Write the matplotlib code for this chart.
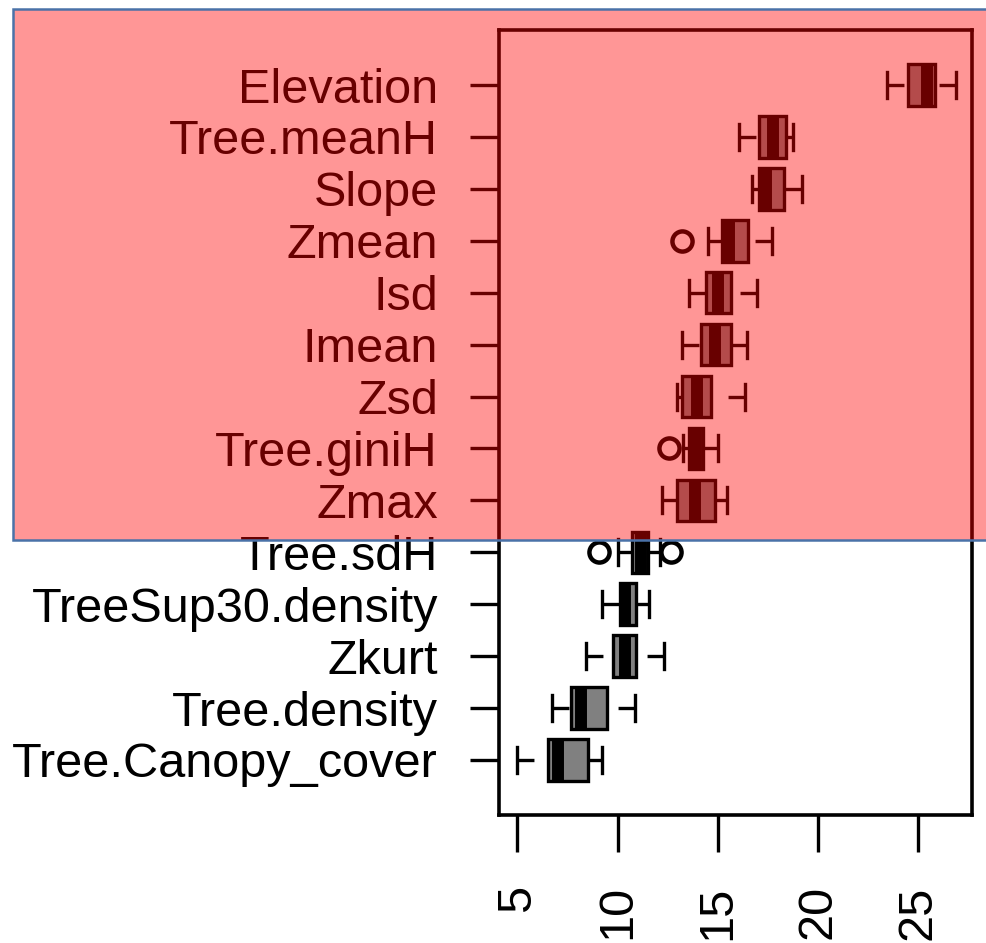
import matplotlib
matplotlib.use("Agg")
import matplotlib.pyplot as plt
from matplotlib.patches import Rectangle

plt.rcParams['font.family'] = ['Liberation Sans', 'DejaVu Sans']

# ---- data (top to bottom) ----
categories = ["Elevation", "Tree.meanH", "Slope", "Zmean", "Isd", "Imean", "Zsd",
              "Tree.giniH", "Zmax", "Tree.sdH", "TreeSup30.density", "Zkurt",
              "Tree.density", "Tree.Canopy_cover"]
whisker_low = [23.45, 16.07, 16.72, 14.53, 13.56, 13.23, 12.95, 13.25, 12.20, 10.04, 9.24, 8.43, 6.75, 4.97]
q1 = [24.47, 17.07, 17.07, 15.22, 14.40, 14.15, 13.23, 13.58, 12.95, 10.74, 10.12, 9.76, 7.66, 6.52]
median = [25.41, 17.77, 17.40, 15.55, 15.00, 14.88, 13.96, 13.91, 13.85, 11.17, 10.37, 10.35, 8.18, 7.05]
q3 = [25.85, 18.39, 18.30, 16.49, 15.64, 15.64, 14.66, 14.28, 14.86, 11.50, 10.91, 10.92, 9.49, 8.51]
whisker_high = [26.87, 18.77, 19.18, 17.69, 16.94, 16.44, 16.36, 15.00, 15.47, 12.12, 11.57, 12.33, 10.87, 9.24]
outliers = [[], [], [], [13.23], [], [], [], [12.55], [], [9.07, 12.65], [], [], [], []]
x_ticks = [5, 10, 15, 20, 25]

n = len(categories)
positions = [n - i for i in range(n)]

stats = []
for i, name in enumerate(categories):
    stats.append(dict(label=name, whislo=whisker_low[i], q1=q1[i], med=median[i],
                      q3=q3[i], whishi=whisker_high[i], fliers=outliers[i]))

fig = plt.figure(figsize=(9.86, 9.43), dpi=100)
ax = fig.add_axes([499 / 986, 1 - 815 / 943, (971.7 - 499) / 986, (815 - 30) / 943])

lw = 2.4
dash = 12.2 / lw
res = ax.bxp(stats, positions=positions, vert=False, widths=0.8, capwidths=0.5,
             patch_artist=True, showfliers=True,
             boxprops=dict(facecolor='#808080', edgecolor='black', linewidth=lw),
             medianprops=dict(color='black', linewidth=8.6, solid_capstyle='butt'),
             whiskerprops=dict(color='black', linewidth=lw, linestyle=(0, (dash, dash))),
             capprops=dict(color='black', linewidth=lw),
             flierprops=dict(marker='o', markerfacecolor='none', markeredgecolor='black',
                             markersize=14.5, markeredgewidth=3.2, linestyle='none'))

for box, med in zip(res['boxes'], res['medians']):
    box.set_zorder(2)
    med.set_zorder(2.5)
    med.set_clip_path(box)

# R draws whiskers from the whisker end toward the box
for w in res['whiskers']:
    w.set_xdata(list(w.get_xdata())[::-1])
    w.set_ydata(list(w.get_ydata())[::-1])

ax.set_xlim(4.09, 27.66)
ax.set_ylim(-0.06, n + 1.06)
ax.set_yticks(positions)
ax.set_yticklabels(categories)
ax.set_xticks(x_ticks)
ax.set_xticklabels([str(t) for t in x_ticks], rotation=90, va='top')
ax.tick_params(axis='y', length=21, width=lw, pad=23, labelsize=35)
ax.tick_params(axis='x', length=26.6, width=lw, pad=24, labelsize=35)
for s in ax.spines.values():
    s.set_linewidth(2.6)

# translucent highlight overlay
fig.add_artist(Rectangle((13 / 986, 1 - 540 / 943), 1.0, (540 - 9) / 943,
                         transform=fig.transFigure, facecolor=(1, 0, 0, 0.41),
                         edgecolor='#4A72A8', linewidth=1.8, zorder=10))

fig.savefig('out.png', dpi=100)
